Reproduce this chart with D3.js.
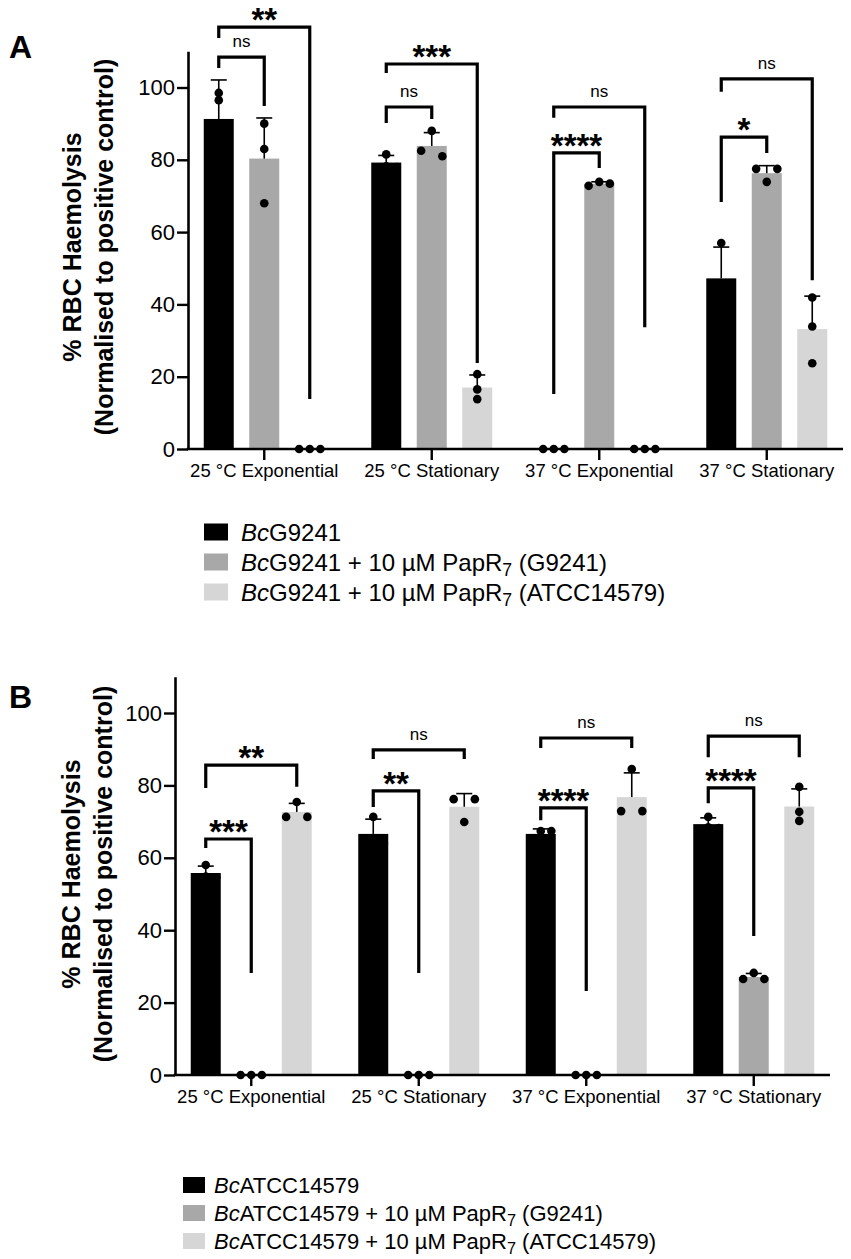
<!DOCTYPE html>
<html><head><meta charset="utf-8">
<script src="https://cdn.jsdelivr.net/npm/d3@7"></script>
<style>
body{margin:0;background:#fff}
svg{display:block}
text{font-family:"Liberation Sans",Arial,Helvetica,sans-serif}
</style>
</head><body>
<svg id="chart" width="851" height="1259"></svg>
<script>
// ---------- DATA ----------
const categories = ["25 °C Exponential", "25 °C Stationary", "37 °C Exponential", "37 °C Stationary"];
const yTicks = [0, 20, 40, 60, 80, 100];
const seriesColors = ["#000000", "#a8a8a8", "#d6d6d6"];

const legendA = ["BcG9241", "BcG9241 + 10 µM PapR7 (G9241)", "BcG9241 + 10 µM PapR7 (ATCC14579)"];
const legendB = ["BcATCC14579", "BcATCC14579 + 10 µM PapR7 (G9241)", "BcATCC14579 + 10 µM PapR7 (ATCC14579)"];

// replicate values (3 per bar) per category
const aSeries0 = [[98.5, 96.5, 78.9], [81.5, 78.2, 78.0], [0, 0, 0], [57.0, 44.0, 40.6]];
const aSeries1 = [[90.0, 83.0, 68.0], [88.0, 82.5, 81.0], [72.8, 73.9, 73.4], [77.5, 73.9, 77.5]];
const aSeries2 = [[0, 0, 0], [20.7, 16.5, 13.8], [0, 0, 0], [41.9, 33.9, 23.7]];

const bSeries0 = [[58.0, 54.8, 54.6], [71.3, 64.5, 64.0], [65.0, 67.4, 67.4], [71.3, 68.4, 68.2]];
const bSeries1 = [[0, 0, 0], [0, 0, 0], [0, 0, 0], [26.5, 28.2, 26.5]];
const bSeries2 = [[71.3, 75.4, 71.3], [76.2, 69.9, 76.2], [72.9, 84.5, 72.9], [79.6, 72.7, 70.2]];

// brackets: [category, fromSeries, toSeries, topValue, leftLegEnd, rightLegEnd, label]
const bracketsA = [
  [0, 0, 1, 108.4, 105.4, 94.9, "ns"],
  [0, 0, 2, 116.7, 113.7, 13.8, "**"],
  [1, 0, 1, 94.6, 90.2, 91.3, "ns"],
  [1, 0, 2, 106.5, 104.0, 23.8, "***"],
  [2, 0, 1, 81.9, 15.2, 77.7, "****"],
  [2, 0, 2, 94.6, 91.6, 33.7, "ns"],
  [3, 0, 1, 86.3, 68.3, 81.9, "*"],
  [3, 0, 2, 102.4, 98.8, 46.7, "ns"]
];
const bracketsB = [
  [0, 0, 1, 65.2, 62.7, 28.2, "***"],
  [0, 0, 2, 85.6, 79.3, 79.6, "**"],
  [1, 0, 1, 78.5, 74.0, 28.2, "**"],
  [1, 0, 2, 89.8, 87.3, 87.3, "ns"],
  [2, 0, 1, 73.8, 70.4, 23.2, "****"],
  [2, 0, 2, 93.1, 90.3, 90.3, "ns"],
  [3, 0, 1, 79.3, 75.1, 38.4, "****"],
  [3, 0, 2, 93.6, 87.8, 87.8, "ns"]
];

const yTitle1 = "% RBC Haemolysis";
const yTitle2 = "(Normalised to positive control)";

// ---------- LAYOUT ----------
const svg = d3.select("#chart");

const panels = [
  { letter: "A", letterY: 58, x0: 188, x1: 843, y0: 449, k: 3.615, titleCy: 247, tX1: 81, tX2: 113,
    series: [aSeries0, aSeries1, aSeries2], brackets: bracketsA, legend: legendA,
    lg: { swX: 204, swW: 24, swH: 17, textX: 241, rows: [532, 562, 592], fs: 24 } },
  { letter: "B", letterY: 708, x0: 175, x1: 830, y0: 1075, k: 3.62, titleCy: 874, tX1: 80, tX2: 112,
    series: [bSeries0, bSeries1, bSeries2], brackets: bracketsB, legend: legendB,
    lg: { swX: 183, swW: 22, swH: 16, textX: 214, rows: [1185, 1213, 1241], fs: 22 } }
];

function mean(a) { return d3.mean(a); }
function sd(a) { return d3.deviation(a); }

function richLabel(textSel, label, fs) {
  const m = label.match(/^(Bc)(.*)$/);
  textSel.append("tspan").attr("font-style", "italic").text(m[1]);
  const rest = m[2];
  const idx = rest.indexOf("PapR7");
  if (idx < 0) { textSel.append("tspan").text(rest); return; }
  const shift = fs * 0.22;
  textSel.append("tspan").text(rest.slice(0, idx + 4));
  textSel.append("tspan").attr("font-size", fs * 0.74).attr("dy", shift).text("7");
  textSel.append("tspan").attr("dy", -shift).text(rest.slice(idx + 5));
}

panels.forEach(p => {
  const g = svg.append("g");
  const y = d3.scaleLinear().domain([0, 110]).range([p.y0, p.y0 - 110 * p.k]);
  const x = d3.scaleBand().domain(categories).range([p.x0 - 7.5, p.x1 + 7.5]);
  const sub = d3.scalePoint().domain([0, 1, 2]).range([-45.5, 45.5]);
  const cx = (ci, si) => x(categories[ci]) + x.bandwidth() / 2 + sub(si);
  const barW = 30;

  // panel letter
  g.append("text").attr("x", 9).attr("y", p.letterY)
    .attr("font-size", 32).attr("font-weight", "bold").text(p.letter);

  // y title
  const tg = g.append("g");
  tg.append("text").attr("transform", `translate(${p.tX1},${p.titleCy}) rotate(-90)`)
    .attr("text-anchor", "middle").attr("font-size", 25).attr("font-weight", "bold").text(yTitle1);
  tg.append("text").attr("transform", `translate(${p.tX2},${p.titleCy}) rotate(-90)`)
    .attr("text-anchor", "middle").attr("font-size", 25).attr("font-weight", "bold").text(yTitle2);

  // bars
  p.series.forEach((ser, si) => {
    ser.forEach((vals, ci) => {
      const m = mean(vals);
      if (m > 0) {
        g.append("rect").attr("x", cx(ci, si) - barW / 2).attr("width", barW)
          .attr("y", y(m)).attr("height", y(0) - y(m)).attr("fill", seriesColors[si]);
      }
    });
  });

  // error bars (mean + SD)
  p.series.forEach((ser, si) => {
    ser.forEach((vals, ci) => {
      const m = mean(vals), s = sd(vals);
      if (m > 0 && s > 0) {
        const c = cx(ci, si);
        g.append("line").attr("x1", c).attr("x2", c).attr("y1", y(m)).attr("y2", y(m + s))
          .attr("stroke", "#000").attr("stroke-width", 1.6);
        g.append("line").attr("x1", c - 8).attr("x2", c + 8).attr("y1", y(m + s)).attr("y2", y(m + s))
          .attr("stroke", "#000").attr("stroke-width", 1.6);
      }
    });
  });

  // axes
  const yAxis = d3.axisLeft(y).tickValues(yTicks).tickSize(11).tickSizeOuter(0).tickPadding(2);
  const ya = g.append("g").attr("transform", `translate(${p.x0},0)`).call(yAxis);
  ya.select(".domain").attr("stroke-width", 2.6).attr("stroke", "#000");
  ya.selectAll(".tick line").attr("stroke-width", 2.4).attr("stroke", "#000");
  ya.selectAll(".tick text").attr("font-size", 22).attr("fill", "#000")
    .attr("font-family", '"Liberation Sans",Arial,Helvetica,sans-serif');

  const xAxis = d3.axisBottom(x).tickSize(11).tickSizeOuter(0).tickPadding(4);
  const xa = g.append("g").attr("transform", `translate(0,${p.y0})`).call(xAxis);
  xa.select(".domain").remove();
  xa.selectAll(".tick line").attr("stroke-width", 2.4).attr("stroke", "#000");
  xa.selectAll(".tick text").attr("font-size", 18.5).attr("fill", "#000")
    .attr("font-family", '"Liberation Sans",Arial,Helvetica,sans-serif');
  g.append("line").attr("x1", p.x0 - 1.3).attr("x2", p.x1).attr("y1", p.y0).attr("y2", p.y0)
    .attr("stroke", "#000").attr("stroke-width", 2.6);

  // dots (scatter spreading of overlapping replicates)
  const r = 4.3, step = 10.6;
  p.series.forEach((ser, si) => {
    ser.forEach((vals, ci) => {
      const c = cx(ci, si);
      const items = vals.map((v, i) => ({ v, i, py: y(v) }));
      const sorted = items.slice().sort((a, b) => a.py - b.py);
      const clusters = [];
      sorted.forEach(it => {
        const last = clusters[clusters.length - 1];
        if (last && it.py - last[last.length - 1].py < 6.5) last.push(it);
        else clusters.push([it]);
      });
      clusters.forEach(cl => {
        cl.sort((a, b) => a.i - b.i);
        let offs;
        if (cl.length === 1) offs = [0];
        else if (cl.length === 2) offs = si === 0 ? [0, step] : [-step, step];
        else offs = [-step, 0, step];
        cl.forEach((it, j) => {
          g.append("circle").attr("cx", c + offs[j]).attr("cy", it.py).attr("r", r).attr("fill", "#000");
        });
      });
    });
  });

  // significance brackets
  p.brackets.forEach(b => {
    const [ci, sa, sb, top, lb, rb, label] = b;
    const xl = cx(ci, sa), xr = cx(ci, sb);
    g.append("path")
      .attr("d", `M${xl},${y(lb)}V${y(top)}H${xr}V${y(rb)}`)
      .attr("fill", "none").attr("stroke", "#000").attr("stroke-width", 3.2)
      .attr("stroke-linejoin", "miter");
    const mid = (xl + xr) / 2;
    if (label === "ns") {
      g.append("text").attr("x", mid).attr("y", y(top) - 9.8).attr("text-anchor", "middle")
        .attr("font-size", 17).text(label);
    } else {
      g.append("text").attr("x", mid).attr("y", y(top) + 4).attr("text-anchor", "middle")
        .attr("font-size", 33).attr("font-weight", "bold").text(label);
    }
  });

  // legend
  p.legend.forEach((lab, i) => {
    const cy = p.lg.rows[i];
    g.append("rect").attr("x", p.lg.swX).attr("y", cy - p.lg.swH / 2)
      .attr("width", p.lg.swW).attr("height", p.lg.swH).attr("fill", seriesColors[i]);
    const t = g.append("text").attr("x", p.lg.textX).attr("y", cy + p.lg.fs * 0.36)
      .attr("font-size", p.lg.fs);
    richLabel(t, lab, p.lg.fs);
  });
});
</script>
</body></html>
